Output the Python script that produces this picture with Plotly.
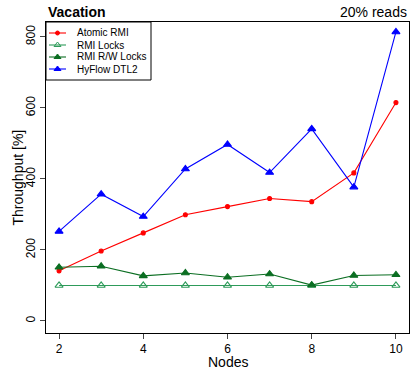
import plotly.graph_objects as go

nodes = [2, 3, 4, 5, 6, 7, 8, 9, 10]
atomic_rmi = [141, 197, 248, 299, 322, 345, 336, 417, 615]
rmi_locks = [100, 100, 100, 100, 100, 100, 100, 100, 100]
rmi_rw_locks = [151, 154, 127, 135, 123, 132, 101, 128, 130]
hyflow_dtl2 = [252, 357, 294, 428, 497, 418, 541, 377, 814]
y_ticks = [0, 200, 400, 600, 800]
x_ticks = [2, 4, 6, 8, 10]

series_names = ["Atomic RMI", "RMI Locks", "RMI R/W Locks", "HyFlow DTL2"]
series_values = [atomic_rmi, rmi_locks, rmi_rw_locks, hyflow_dtl2]
colors = ["#FF0000", "#2E9B5A", "#0B6E22", "#0000FF"]
symbols = ["circle", "triangle-up-open", "triangle-up", "triangle-up"]
msizes = [4, 7, 7, 7]

FONT = "Liberation Sans, Arial, sans-serif"

# plot area in pixels
W, H = 411, 369
L, R, T, B = 46, 2, 22, 36
PW, PH = W - L - R, H - T - B

def px_x(x):
    return (x - L) / PW

def px_y(y):
    return (H - B - y) / PH

fig = go.Figure()
for name, vals, c, s, ms in zip(series_names, series_values, colors, symbols, msizes):
    fig.add_trace(go.Scatter(x=nodes, y=vals, name=name, mode="lines+markers",
                             line=dict(color=c, width=1.1),
                             marker=dict(symbol=s, size=ms, color=c, line=dict(width=1.1, color=c)),
                             showlegend=False))

# manual legend (compact like the reference)
entry_y = [33, 45, 57, 69]
shapes = [dict(type="rect", xref="paper", yref="paper", x0=0, x1=px_x(151), y0=px_y(80), y1=1,
               line=dict(color="black", width=1), fillcolor="rgba(0,0,0,0)", layer="above")]
annotations = []
for name, c, s, ms, ey in zip(series_names, colors, symbols, msizes, entry_y):
    shapes.append(dict(type="line", xref="paper", yref="paper", x0=px_x(49), x1=px_x(66),
                       y0=px_y(ey), y1=px_y(ey), line=dict(color=c, width=1.1)))
    fig.add_trace(go.Scatter(x=[px_x(57.5)], y=[px_y(ey)], xaxis="x2", yaxis="y2", mode="markers",
                             marker=dict(symbol=s, size=ms - 1 if ms > 4 else ms, color=c,
                                         line=dict(width=1, color=c)),
                             showlegend=False, hoverinfo="skip"))
    annotations.append(dict(text=name, x=px_x(75), y=px_y(ey), xref="paper", yref="paper",
                            xanchor="left", yanchor="middle", showarrow=False, font=dict(size=10)))

annotations += [
    dict(text="<b>Vacation</b>", x=0, y=1, xref="paper", yref="paper",
         xanchor="left", yanchor="bottom", showarrow=False, font=dict(size=14)),
    dict(text="20% reads", x=1, y=1, xref="paper", yref="paper",
         xanchor="right", yanchor="bottom", showarrow=False, font=dict(size=14)),
    dict(text="Nodes", x=0.5, y=px_y(362), xref="paper", yref="paper",
         xanchor="center", yanchor="middle", showarrow=False, font=dict(size=14)),
    dict(text="Throughput [%]", x=px_x(17), y=0.5, xref="paper", yref="paper", textangle=-90,
         xanchor="center", yanchor="middle", showarrow=False, font=dict(size=14)),
]

fig.update_layout(
    width=W, height=H,
    margin=dict(l=L, r=R, t=T, b=B),
    paper_bgcolor="white", plot_bgcolor="white",
    font=dict(family=FONT, size=12, color="black"),
    showlegend=False,
    xaxis=dict(range=[1.69, 10.31], tickvals=x_ticks, ticks="outside", ticklen=5,
               showline=True, linecolor="black", mirror=True, showgrid=False, zeroline=False),
    yaxis=dict(range=[-34, 842], tickvals=y_ticks, ticks="outside", ticklen=5,
               tickangle=-90,
               showline=True, linecolor="black", mirror=True, showgrid=False, zeroline=False),
    xaxis2=dict(range=[0, 1], overlaying="x", visible=False, fixedrange=True),
    yaxis2=dict(range=[0, 1], overlaying="y", visible=False, fixedrange=True),
    shapes=shapes,
    annotations=annotations,
)

fig.write_html("out.html")
